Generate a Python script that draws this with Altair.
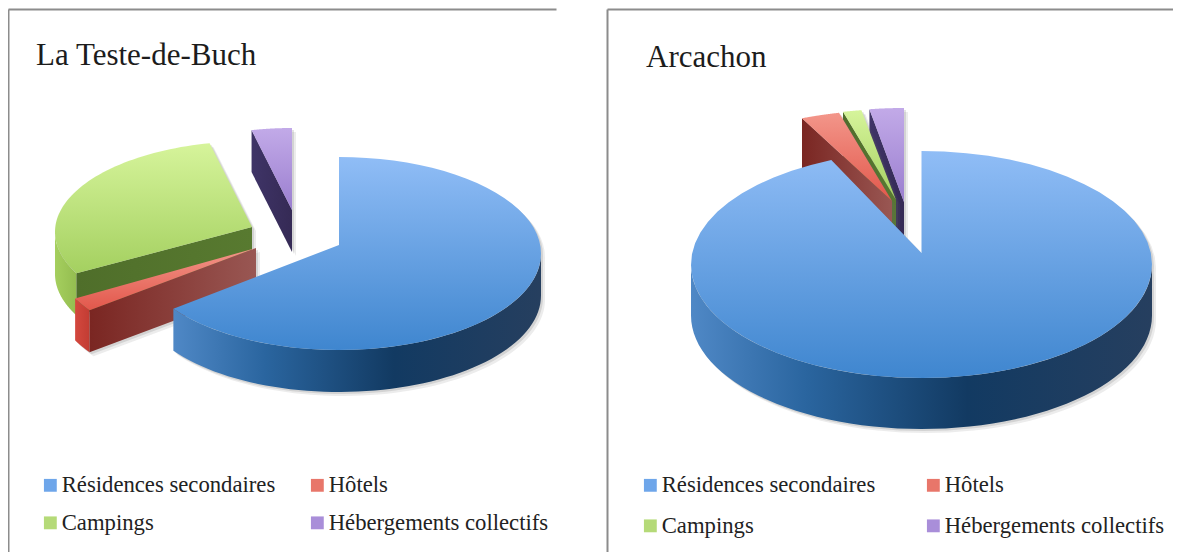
import math
import altair as alt
import pandas as pd

CATEGORIES = ["Résidences secondaires", "Hôtels", "Campings", "Hébergements collectifs"]
LEGEND_ORDER = ["Résidences secondaires", "Campings", "Hôtels", "Hébergements collectifs"]
COLORS = ["#6ea6ea", "#e8766a", "#b5da78", "#a98ed9"]
TESTE_SHARES = [65.3, 2.2, 29.05, 3.45]
ARCACHON_SHARES = [93.6, 2.7, 1.3, 2.4]

FONT = "Liberation Serif"

# Solid look of each slice: (ellipse cx, cy, rx, ry, apex x, apex y) in panel pixels
TESTE_GEOM = [
    (331, 244.5, 202, 96.5, 331, 236),
    (248, 244, 203, 100, 248, 239),
    (244, 223, 197, 91, 244, 218),
    (284, 209, 188, 90, 284, 201),
]
ARCACHON_GEOM = [
    (314.5, 255.5, 230.5, 113.5, 314.5, 244),
    (285, 205, 230, 104, 285, 192),
    (289, 204, 230, 104, 289, 191),
    (297, 206, 230, 107, 297, 193),
]

STYLE = [
    dict(top=["#90bdf6", "#3f86cf"],
         wall=[(0, "#4f88c6"), (0.25, "#2a659f"), (0.6, "#123a62"), (1, "#263f5f")],
         cut=["#1d4f85", "#1d4f85"]),
    dict(top=["#f3968a", "#e2574b"],
         wall=[(0, "#d4483e"), (1, "#c23c33")],
         cut=["#7a2622", "#995753"]),
    dict(top=["#d6f49b", "#a4d060"],
         wall=[(0, "#a5cf5e"), (1, "#94bd50")],
         cut=["#4f6e2a", "#587a30"]),
    dict(top=["#c2aae8", "#9a7ecf"],
         wall=[(0, "#3c3060"), (1, "#3c3060")],
         cut=["#3f3467", "#352a55"]),
]


def arc(g, a0, a1, n=60):
    cx, cy, rx, ry = g[:4]
    pts = []
    for i in range(n + 1):
        t = math.radians(a0 + (a1 - a0) * i / n)
        pts.append((cx + rx * math.sin(t), cy - ry * math.cos(t)))
    return pts


def frame(pts):
    return pd.DataFrame({"x": [p[0] for p in pts], "y": [p[1] for p in pts], "i": range(len(pts))})


def panel(title, shares, geom, depth, W, H, title_xy, legend_x, legend_y, col_pad, row_pad):
    X = alt.X("x:Q", scale=alt.Scale(domain=[0, W], nice=False, zero=False),
              axis=alt.Axis(orient="top", labels=False, ticks=False, grid=False, title=None,
                            domainColor="#8c8c8c", domainWidth=2))
    Y = alt.Y("y:Q", scale=alt.Scale(domain=[H, 0], nice=False, zero=False),
              axis=alt.Axis(orient="left", labels=False, ticks=False, grid=False, title=None,
                            domainColor="#8c8c8c", domainWidth=2))

    def poly(pts, fill, opacity=1.0):
        mark = alt.Chart(frame(pts)).mark_line(fill=fill, strokeWidth=0, strokeOpacity=0,
                                               opacity=opacity, clip=True)
        return mark.encode(x=X, y=Y, order="i:Q")

    def vgrad(c):
        return {"gradient": "linear", "x1": 0, "y1": 0, "x2": 0, "y2": 1,
                "stops": [{"offset": 0, "color": c[0]}, {"offset": 1, "color": c[1]}]}

    def hgrad(stops):
        return {"gradient": "linear", "x1": 0, "y1": 0, "x2": 1, "y2": 0,
                "stops": [{"offset": o, "color": c} for o, c in stops]}

    starts = [0]
    for s in shares:
        starts.append(starts[-1] + s * 3.6)

    keys = []
    layers = []
    pieces = {}
    for k, (s, g, st) in enumerate(zip(shares, geom, STYLE)):
        a0, a1 = starts[k], starts[k + 1]
        ax, ay = g[4], g[5]
        top = [(ax, ay)] + arc(g, a0, a1)
        shift = lambda pts, dx, dy: [(p[0] + dx, p[1] + dy) for p in pts]
        lo, hi = max(a0, 90), min(a1, 270)
        outer = None
        if lo < hi:
            up = arc(g, lo, hi)
            outer = up + shift(up, 0, depth)[::-1]
        cut = None
        if k > 0:
            edge = [arc(g, a0, a0, 1)[0], (ax, ay)]
            cut = edge + shift(edge, 0, depth)[::-1]
        pieces[k] = (top, outer, cut, st)
        keys.append({"cat": CATEGORIES[k], "x": sum(p[0] for p in top) / len(top),
                     "y": sum(p[1] for p in top) / len(top)})

    key_layer = alt.Chart(pd.DataFrame(keys)).mark_point(filled=True, shape="square", size=1, opacity=1).encode(
        x=X, y=Y,
        color=alt.Color("cat:N", scale=alt.Scale(domain=CATEGORIES, range=COLORS),
                        legend=alt.Legend(orient="none", legendX=legend_x, legendY=legend_y, columns=2,
                                          values=LEGEND_ORDER,
                                          title=None, symbolType="square", symbolSize=165,
                                          labelFont=FONT, labelFontSize=22.7, labelColor="#222222",
                                          labelLimit=400, labelOffset=0, columnPadding=col_pad,
                                          rowPadding=row_pad, padding=0, symbolStrokeWidth=0)))
    layers.append(key_layer)

    for k in [3, 2, 1, 0]:
        top, outer, cut, st = pieces[k]
        for off, op in ((4, 0.12), (2, 0.18)):
            sh = [(p[0] + off, p[1] + off) for p in top]
            layers.append(poly(sh, "#666666", op))
            if outer:
                layers.append(poly([(p[0] + off, p[1] + off) for p in outer], "#666666", op))
            if cut:
                layers.append(poly([(p[0] + off, p[1] + off) for p in cut], "#666666", op))
        if outer:
            layers.append(poly(outer, hgrad(st["wall"])))
        if cut:
            layers.append(poly(cut, hgrad([(0, st["cut"][0]), (1, st["cut"][1])])))
        layers.append(poly(top, vgrad(st["top"])))

    label = alt.Chart(pd.DataFrame({"t": [title]})).mark_text(
        font=FONT, fontSize=31, color="#1c1c1c", align="left", baseline="alphabetic"
    ).encode(text="t:N", x=alt.value(title_xy[0]), y=alt.value(title_xy[1]))
    layers.append(label)

    return alt.layer(*layers).resolve_scale(x="shared", y="shared").properties(width=W, height=H)


left = panel("La Teste-de-Buch", TESTE_SHARES, TESTE_GEOM, 42, 548, 543, (28, 56), 31, 464.5, 30, 14)
right = panel("Arcachon", ARCACHON_SHARES, ARCACHON_GEOM, 51, 566, 543, (39, 58), 32, 464.5, 46, 17)

chart = alt.hconcat(left, right, spacing=51, padding={"left": 0, "top": 1, "right": 0, "bottom": 0}).resolve_scale(
    color="independent"
).configure_view(stroke=None)

chart.save("out.html", embed_options={"renderer": "svg", "actions": False})
